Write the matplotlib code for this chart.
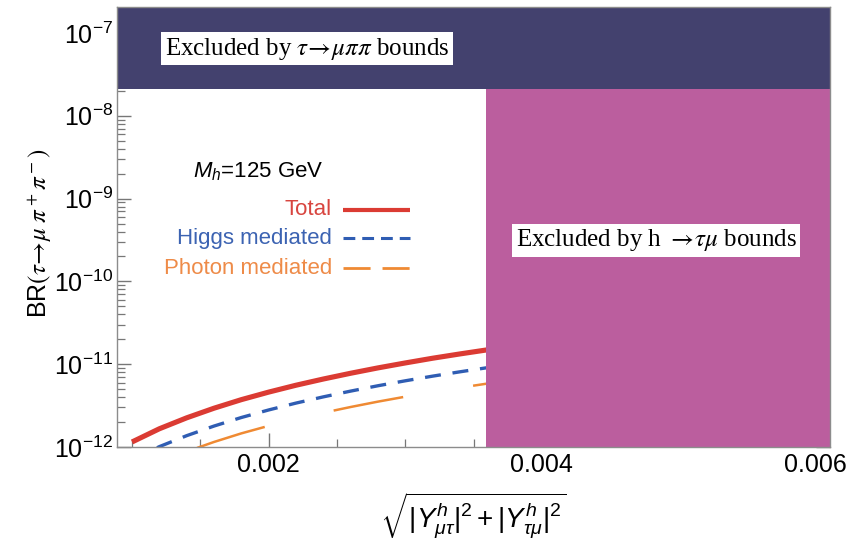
import matplotlib
matplotlib.use("Agg")
import matplotlib.pyplot as plt
from matplotlib.ticker import FixedLocator, MultipleLocator, LogLocator, NullFormatter, FixedFormatter
from matplotlib.lines import Line2D

plt.rcParams['font.family'] = ['Liberation Sans', 'DejaVu Sans']
plt.rcParams['mathtext.fontset'] = 'custom'
plt.rcParams['mathtext.rm'] = 'Liberation Sans'
plt.rcParams['mathtext.it'] = 'Liberation Sans:italic'
plt.rcParams['mathtext.bf'] = 'Liberation Sans:bold'
plt.rcParams['lines.scale_dashes'] = False

# sqrt(|Y_mutau|^2 + |Y_taumu|^2)
yukawa = [0.0010, 0.0012, 0.0014, 0.0016, 0.0018, 0.0020, 0.0022,
          0.0024, 0.0026, 0.0028, 0.0030, 0.0032, 0.0034, 0.0036]
# BR(tau -> mu pi+ pi-)
br_total = [1.15e-12, 1.66e-12, 2.25e-12, 2.94e-12, 3.73e-12, 4.60e-12, 5.57e-12,
            6.62e-12, 7.77e-12, 9.02e-12, 1.035e-11, 1.18e-11, 1.33e-11, 1.49e-11]
br_higgs = [0.70e-12, 1.01e-12, 1.37e-12, 1.79e-12, 2.27e-12, 2.80e-12, 3.39e-12,
            4.03e-12, 4.73e-12, 5.49e-12, 6.30e-12, 7.17e-12, 8.09e-12, 9.07e-12]
br_photon = [0.45e-12, 0.65e-12, 0.88e-12, 1.15e-12, 1.46e-12, 1.80e-12, 2.18e-12,
             2.59e-12, 3.04e-12, 3.53e-12, 4.05e-12, 4.61e-12, 5.20e-12, 5.83e-12]

# experimental limits
tau_mupipi_limit = 2.1e-8
h_taumu_limit = 0.00359

x_range = (0.00089, 0.00611)
br_range = (1e-12, 2.06e-7)
x_major_ticks = [0.002, 0.004, 0.006]
x_tick_labels = ['0.002', '0.004', '0.006']
y_exponents = [-12, -11, -10, -9, -8, -7]
y_tick_labels = [r'$10^{%d}$' % e for e in y_exponents]

c_total = '#db3b33'
c_higgs = '#2f5db3'
c_photon = '#ef8a33'
c_band = '#43416e'
c_pink = '#bb5e9e'
frame = '#8c8c8c'

fig = plt.figure(figsize=(8.64, 5.56), dpi=100)
ax = fig.add_axes([117 / 864, 109 / 556, 713 / 864, 440 / 556])
ax.set_yscale('log')
ax.set_xlim(*x_range)
ax.set_ylim(*br_range)

# theory curves
ax.plot(yukawa, br_total, color=c_total, lw=3.7, solid_capstyle='butt', zorder=2)
ax.plot(yukawa, br_higgs, color=c_higgs, lw=2.4, dashes=(11.5, 8.5),
        dash_capstyle='butt', zorder=2)
ax.plot(yukawa, br_photon, color=c_photon, lw=1.8, linestyle=(51, (51, 51)),
        dash_capstyle='butt', zorder=2)

# excluded regions
ax.axvspan(h_taumu_limit, x_range[1], color=c_pink, lw=0, zorder=3)
ax.axhspan(tau_mupipi_limit, br_range[1], color=c_band, lw=0, zorder=4)

serif = ['Liberation Serif', 'DejaVu Serif']
box = dict(facecolor='white', edgecolor='none', pad=2.5)
ax.text(0.2665, 0.905, r'Excluded by $\tau\!\rightarrow\!\mu\pi\pi$ bounds',
        transform=ax.transAxes, ha='center', va='center', fontsize=18,
        family=serif, math_fontfamily='stix', bbox=box, zorder=6)
ax.text(0.756, 0.47, r'Excluded by h $\rightarrow\!\tau\mu$ bounds',
        transform=ax.transAxes, ha='center', va='center', fontsize=18,
        family=serif, math_fontfamily='stix', bbox=box, zorder=6)

# legend
ax.text(0.1066, 0.625, r'$M_h$=125 GeV', transform=ax.transAxes,
        ha='left', va='center', fontsize=16, color='black', zorder=6)
legend_rows = [
    ('Total', '#d8453f', c_total, 3.0, '-', 0.539),
    ('Higgs mediated', '#3c63b2', c_higgs, 2.2, (0, (8.5, 5.0)), 0.474),
    ('Photon mediated', '#ee8b48', c_photon, 2.0, (0, (19.5, 8.6)), 0.406),
]
for label, tcol, lcol, lw, ls, yy in legend_rows:
    ax.text(0.3015, yy, label, transform=ax.transAxes, ha='right', va='center',
            fontsize=16, color=tcol, zorder=6)
    ax.add_line(Line2D([0.317, 0.411], [yy, yy], transform=ax.transAxes,
                       color=lcol, lw=lw, linestyle=ls, dash_capstyle='butt',
                       solid_capstyle='butt', zorder=6))

# axes styling
for s in ax.spines.values():
    s.set_color(frame)
    s.set_linewidth(1.0)
    s.set_zorder(7)

ax.xaxis.set_major_locator(FixedLocator(x_major_ticks))
ax.xaxis.set_major_formatter(FixedFormatter(x_tick_labels))
ax.xaxis.set_minor_locator(MultipleLocator(0.0005))
ax.yaxis.set_major_locator(FixedLocator([10.0 ** e for e in y_exponents]))
ax.yaxis.set_major_formatter(FixedFormatter(y_tick_labels))
ax.yaxis.set_minor_locator(LogLocator(base=10, subs=range(2, 10), numticks=20))
ax.yaxis.set_minor_formatter(NullFormatter())

ax.tick_params(which='both', direction='in', color='#777777', top=False,
               right=True, labelsize=18, zorder=8)
ax.tick_params(which='major', length=10, width=1.0, pad=4)
ax.tick_params(which='minor', length=6, width=0.9)
ax.tick_params(axis='y', which='major', pad=3)

fig.text(40 / 864, 1 - 233 / 556, r'BR$(\tau\!\rightarrow\!\mu\;\pi^+\pi^-)$',
         rotation=90, ha='center', va='center', fontsize=18,
         math_fontfamily='stix')
fig.text(473 / 864, 1 - 516 / 556,
         r'$\sqrt{|Y^h_{\mu\tau}|^2+|Y^h_{\tau\mu}|^2}$',
         ha='center', va='center', fontsize=20)

fig.savefig('out.png', dpi=100)
